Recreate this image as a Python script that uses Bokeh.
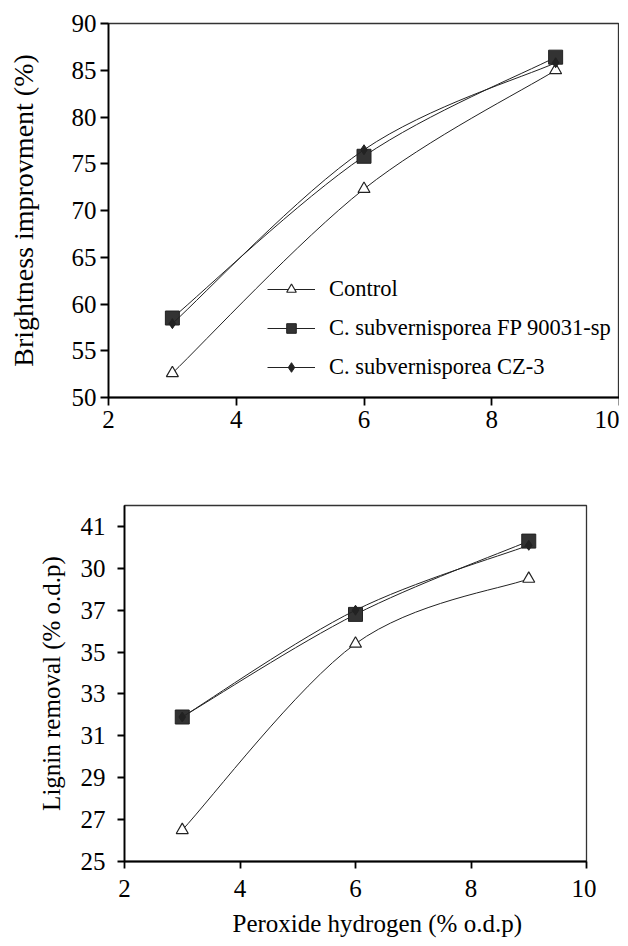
from bokeh.plotting import figure
from bokeh.layouts import column, row
from bokeh.models import Range1d, FixedTicker, Legend, LegendItem, ColumnDataSource, Spacer, Title
from bokeh.embed import file_html
from bokeh.resources import INLINE

# ---------------- data ----------------
peroxide = [3, 6, 9]
series_names = ["Control", "C. subvernisporea FP 90031-sp", "C. subvernisporea CZ-3"]

bright_control = [52.6, 72.3, 85.0]
bright_fp = [58.5, 75.8, 86.4]
bright_cz = [57.9, 76.5, 85.8]

lignin_control = [26.5, 35.4, 38.5]
lignin_fp = [31.9, 36.8, 40.3]
lignin_cz = [31.9, 37.0, 40.1]

x_ticks = [2, 4, 6, 8, 10]
bright_y_ticks = [50, 55, 60, 65, 70, 75, 80, 85, 90]
lignin_y_ticks = [25, 27, 29, 31, 33, 35, 37, 39, 41]
lignin_y_tick_labels = ["25", "27", "29", "31", "33", "35", "37", "30", "41"]

FONT = "Liberation Serif"
INK = "#222222"


def smooth_source(xs, ys):
    """Bezier segments (Catmull-Rom style, like a smoothed spreadsheet line) through the data points."""
    n = len(xs)
    d = dict(x0=[], y0=[], x1=[], y1=[], cx0=[], cy0=[], cx1=[], cy1=[])
    for i in range(n - 1):
        xm, ym = xs[max(i - 1, 0)], ys[max(i - 1, 0)]
        xp, yp = xs[min(i + 2, n - 1)], ys[min(i + 2, n - 1)]
        d["x0"].append(xs[i]); d["y0"].append(ys[i])
        d["x1"].append(xs[i + 1]); d["y1"].append(ys[i + 1])
        d["cx0"].append(xs[i] + (xs[i + 1] - xm) / 6.0)
        d["cy0"].append(ys[i] + (ys[i + 1] - ym) / 6.0)
        d["cx1"].append(xs[i + 1] - (xp - xs[i]) / 6.0)
        d["cy1"].append(ys[i + 1] - (yp - ys[i]) / 6.0)
    return ColumnDataSource(d)


def style_axes(p, tick_size, title_size, tick_len):
    for ax in (p.xaxis[0], p.yaxis[0]):
        ax.axis_line_color = "black"
        ax.axis_line_width = 1.8
        ax.major_tick_line_color = "black"
        ax.major_tick_line_width = 1.8
        ax.major_tick_out = tick_len
        ax.major_tick_in = 0
        ax.minor_tick_line_color = None
        ax.major_label_text_font = FONT
        ax.major_label_text_font_size = tick_size
        ax.major_label_text_color = "black"
        ax.axis_label_text_font = FONT
        ax.axis_label_text_font_size = title_size
        ax.axis_label_text_font_style = "normal"
        ax.axis_label_text_color = "black"
    p.xgrid.grid_line_color = None
    p.ygrid.grid_line_color = None
    p.outline_line_color = "#333333"
    p.outline_line_width = 1.3
    p.background_fill_color = "white"
    p.border_fill_color = "white"


def add_series(p, ys_list):
    renderers = []
    specs = [
        dict(marker="triangle", size=12, fill_color="white", line_color=INK, line_width=1.2),
        dict(marker="square", size=14, fill_color="#333333", line_color=INK, line_width=1),
        dict(marker="diamond", size=10, fill_color=INK, line_color=INK, line_width=1),
    ]
    for ys, spec in zip(ys_list, specs):
        src = smooth_source(peroxide, ys)
        b = p.bezier(x0="x0", y0="y0", x1="x1", y1="y1", cx0="cx0", cy0="cy0",
                     cx1="cx1", cy1="cy1", source=src, line_color=INK, line_width=1)
        m = p.scatter(peroxide, ys, **spec)
        renderers.append((b, m))
    return renderers


# ---------------- top panel ----------------
p1 = figure(frame_width=511, frame_height=374, output_backend="svg", toolbar_location=None,
            x_range=Range1d(2, 10), y_range=Range1d(50, 90),
            min_border_left=108, min_border_right=0, min_border_top=23, min_border_bottom=63)
r1 = add_series(p1, [bright_control, bright_fp, bright_cz])
p1.xaxis.ticker = FixedTicker(ticks=x_ticks)
p1.yaxis.ticker = FixedTicker(ticks=bright_y_ticks)
p1.yaxis.axis_label = "Brightness improvment (%)"
style_axes(p1, "25px", "28px", 8)
p1.xaxis.major_label_standoff = 5
p1.yaxis.major_label_standoff = 4
p1.yaxis.axis_label_standoff = 30

legend = Legend(
    items=[LegendItem(label=name, renderers=[b, m]) for name, (b, m) in zip(series_names, r1)],
    location=(159, 17), background_fill_alpha=0, border_line_alpha=0,
    label_text_font=FONT, label_text_font_size="22.5px", label_text_color="black",
    glyph_width=48, glyph_height=24, label_height=24, label_standoff=14,
    spacing=13, padding=0, margin=0)
p1.add_layout(legend)

# ---------------- bottom panel ----------------
p2 = figure(frame_width=462, frame_height=356, output_backend="svg", toolbar_location=None,
            x_range=Range1d(2, 10), y_range=Range1d(25, 42),
            min_border_left=108, min_border_right=10, min_border_top=45, min_border_bottom=10)
add_series(p2, [lignin_control, lignin_fp, lignin_cz])
p2.xaxis.ticker = FixedTicker(ticks=x_ticks)
p2.yaxis.ticker = FixedTicker(ticks=lignin_y_ticks)
p2.yaxis.major_label_overrides = {t: s for t, s in zip(lignin_y_ticks, lignin_y_tick_labels)}
p2.yaxis.axis_label = "Lignin removal (% o.d.p)"
style_axes(p2, "25px", "25px", 7)
p2.xaxis.major_label_standoff = 11
p2.yaxis.major_label_standoff = 12
p2.yaxis.axis_label_standoff = 13

x_title = Title(text="Peroxide hydrogen (% o.d.p)", align="left", offset=108,
                text_font=FONT, text_font_size="25px", text_font_style="normal",
                text_color="black", standoff=16)
p2.add_layout(x_title, "below")

layout = column(p1, row(Spacer(width=16, height=10), p2), spacing=0)
open("out.html", "w").write(file_html(layout, INLINE))
